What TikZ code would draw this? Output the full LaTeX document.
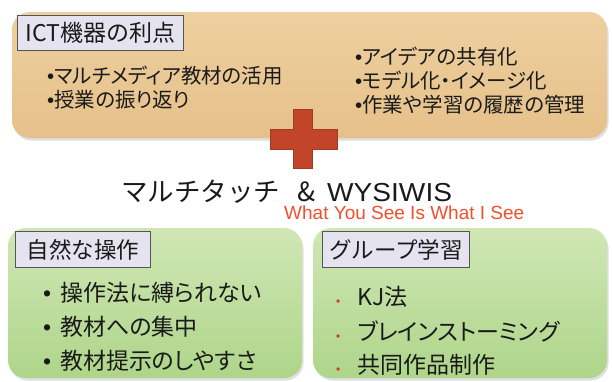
\documentclass[tikz,border=0pt]{standalone}
\usepackage{fontspec}
\setmainfont{Noto Sans CJK JP}
\newfontfamily\jpp[RawFeature=+palt]{Noto Sans CJK JP}
\newfontfamily\latinw[FakeStretch=1.08]{Liberation Sans}
\newfontfamily\latin{Liberation Sans}
\usetikzlibrary{shadows}
\definecolor{tanTop}{HTML}{EDD09F}
\definecolor{tanBot}{HTML}{E6C08A}
\definecolor{grnTop}{HTML}{D0E7B5}
\definecolor{grnBot}{HTML}{AED58A}
\definecolor{lav}{HTML}{E6E3F0}
\definecolor{lavline}{HTML}{555555}
\definecolor{crossred}{HTML}{C2452A}
\definecolor{crossdark}{HTML}{A33A22}
\definecolor{redtxt}{HTML}{F0502C}
\definecolor{dotred}{HTML}{D83A22}
\definecolor{ink}{HTML}{1A1A1A}
\tikzset{
  panel/.style={rounded corners=18pt, inner sep=0pt,
    drop shadow={opacity=0.25, shadow xshift=1.5pt, shadow yshift=-2.5pt}},
  tanpanel/.style={panel, top color=tanTop, bottom color=tanBot},
  grnpanel/.style={panel, top color=grnTop, bottom color=grnBot},
  titlebox/.style={draw=lavline, line width=0.9pt, fill=lav, inner sep=0pt, anchor=north west, text=ink},
  listtext/.style={anchor=west, inner sep=0pt, text=ink},
}
\begin{document}
\begin{tikzpicture}[x=1pt,y=-1pt]
\useasboundingbox (0,0) rectangle (612,381);
\fill[white] (0,0) rectangle (612,381);

% top panel
\node[tanpanel, minimum width=595pt, minimum height=126pt] (top) at (309.5,75) {};
\node[titlebox, minimum width=166pt, minimum height=35pt,
      font=\fontsize{23}{26}\selectfont] (t1) at (17,15) {ICT機器の利点};
\node[listtext, font=\jpp\fontsize{20.5}{24}\selectfont] (a1) at (47,76) {{\latin •}マルチメディア教材の活用};
\node[listtext, font=\jpp\fontsize{20.5}{24}\selectfont] (a2) at (47,100) {{\latin •}授業の振り返り};
\node[listtext, font=\jpp\fontsize{20.5}{24}\selectfont] (b1) at (355,57) {{\latin •}アイデアの共有化};
\node[listtext, font=\jpp\fontsize{20.5}{24}\selectfont] (b2) at (355,81) {{\latin •}モデル化・イメージ化};
\node[listtext, font=\jpp\fontsize{20.5}{24}\selectfont] (b3) at (355,105) {{\latin •}作業や学習の履歴の管理};

% cross
\path[fill=crossred, draw=crossdark, line width=0.8pt]
  (293,109) -- (312,109) -- (312,129) -- (337,129) -- (337,149) -- (312,149)
  -- (312,168) -- (293,168) -- (293,149) -- (270,149) -- (270,129) -- (293,129) -- cycle;

% headline
\node[anchor=west, inner sep=0pt, text=ink, font=\fontsize{26.5}{30}\selectfont] (mt) at (121,192)
  {マルチタッチ\hspace{17pt}\&\hspace{12pt}{\latinw\fontsize{26}{28}\selectfont WYSIWIS}};
\node[anchor=west, inner sep=0pt, text=redtxt, font=\latin\fontsize{19}{22}\selectfont] (wy) at (284,213)
  {What You See Is What I See};

% bottom panels
\node[grnpanel, minimum width=294pt, minimum height=150pt] (g1) at (155,303) {};
\node[grnpanel, minimum width=294pt, minimum height=150pt] (g2) at (460,303) {};
\node[titlebox, minimum width=135pt, minimum height=36pt,
      font=\fontsize{22.5}{26}\selectfont] (t2) at (15,231) {自然な操作};
\node[titlebox, minimum width=147pt, minimum height=36pt,
      font=\fontsize{22.5}{26}\selectfont] (t3) at (322,231) {グループ学習};

\node[listtext, font=\jpp\fontsize{23}{27}\selectfont] (c1) at (43,293) {{\latin •}\hspace{9pt}操作法に縛られない};
\node[listtext, font=\jpp\fontsize{23}{27}\selectfont] (c2) at (43,327) {{\latin •}\hspace{9pt}教材への集中};
\node[listtext, font=\jpp\fontsize{23}{27}\selectfont] (c3) at (43,361) {{\latin •}\hspace{9pt}教材提示のしやすさ};

\node[listtext, font=\jpp\fontsize{23}{27}\selectfont] (d1) at (336,297) {{\color{dotred}\latin\fontsize{12}{12}\selectfont •}\hspace{17pt}KJ法};
\node[listtext, font=\jpp\fontsize{23}{27}\selectfont] (d2) at (336,331) {{\color{dotred}\latin\fontsize{12}{12}\selectfont •}\hspace{17pt}ブレインストーミング};
\node[listtext, font=\jpp\fontsize{23}{27}\selectfont] (d3) at (336,365) {{\color{dotred}\latin\fontsize{12}{12}\selectfont •}\hspace{17pt}共同作品制作};
\end{tikzpicture}
\end{document}
